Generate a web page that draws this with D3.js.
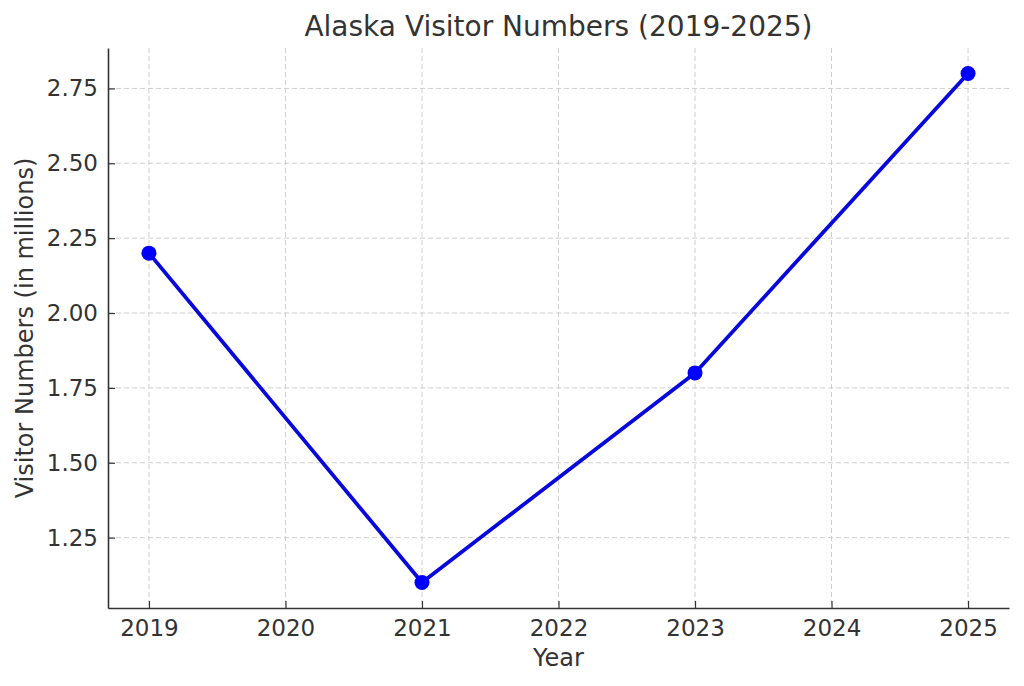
<!DOCTYPE html>
<html>
<head>
<meta charset="utf-8">
<script src="https://cdn.jsdelivr.net/npm/d3@7"></script>
<style>
  body { margin: 0; background: #fff; }
  svg { display: block; font-family: "DejaVu Sans", sans-serif; }
</style>
</head>
<body>
<svg id="chart" width="1024" height="686"></svg>
<script>
// values
const years = [2019, 2021, 2023, 2025]
const visitors = [2.2, 1.1, 1.8, 2.8]
const xTicks = [2019, 2020, 2021, 2022, 2023, 2024, 2025]
const yTicks = [1.25, 1.5, 1.75, 2.0, 2.25, 2.5, 2.75]

var width = 1024,
  height = 686,
  margin = { top: 48, right: 15, bottom: 78, left: 108 }

var svg = d3.select('#chart')

// matplotlib-like 5% padding around the data
var x = d3.scaleLinear()
  .domain([2018.7, 2025.3])
  .range([margin.left, width - margin.right])

var y = d3.scaleLinear()
  .domain([1.015, 2.885])
  .range([height - margin.bottom, margin.top])

var textCol = '#333'
var font = '"DejaVu Sans", sans-serif'

// grid
svg.append('g')
  .selectAll('line')
  .data(xTicks)
  .enter().append('line')
  .attr('x1', d => x(d)).attr('x2', d => x(d))
  .attr('y1', margin.top).attr('y2', height - margin.bottom)
  .attr('stroke', '#cfcfcf').attr('stroke-width', 1)
  .attr('stroke-dasharray', '5,3')

svg.append('g')
  .selectAll('line')
  .data(yTicks)
  .enter().append('line')
  .attr('x1', margin.left).attr('x2', width - margin.right)
  .attr('y1', d => y(d)).attr('y2', d => y(d))
  .attr('stroke', '#cfcfcf').attr('stroke-width', 1)
  .attr('stroke-dasharray', '5,3')

// axes, ticks pointing inward
var xAxis = svg.append('g')
  .attr('transform', 'translate(0,' + (height - margin.bottom) + ')')
  .call(d3.axisBottom(x).tickValues(xTicks).tickFormat(d3.format('d'))
    .tickSizeInner(-7).tickSizeOuter(0).tickPadding(12))
  .attr('font-family', font)
xAxis.select('.domain').attr('stroke', textCol).attr('stroke-width', 1.6)
xAxis.selectAll('.tick line').attr('stroke', textCol).attr('stroke-width', 1.2)
xAxis.selectAll('text')
  .attr('fill', textCol).style('font-size', '23px')

var yAxis = svg.append('g')
  .attr('transform', 'translate(' + margin.left + ',0)')
  .call(d3.axisLeft(y).tickValues(yTicks).tickFormat(d3.format('.2f'))
    .tickSizeInner(-7).tickSizeOuter(0).tickPadding(10))
  .attr('font-family', font)
yAxis.select('.domain').attr('stroke', textCol).attr('stroke-width', 1.6)
yAxis.selectAll('.tick line').attr('stroke', textCol).attr('stroke-width', 1.2)
yAxis.selectAll('text')
  .attr('fill', textCol).style('font-size', '23px')

// line + markers
var line = d3.line()
  .x((d, i) => x(years[i]))
  .y(d => y(d))

svg.append('path')
  .datum(visitors)
  .attr('d', line)
  .attr('fill', 'none')
  .attr('stroke', '#0808dc')
  .attr('stroke-width', 3.8)
  .attr('stroke-linejoin', 'round')

svg.append('g')
  .selectAll('circle')
  .data(visitors)
  .enter().append('circle')
  .attr('cx', (d, i) => x(years[i]))
  .attr('cy', d => y(d))
  .attr('r', 7.5)
  .attr('fill', '#0000ff')

// labels
svg.append('text')
  .attr('x', (margin.left + width - margin.right) / 2)
  .attr('y', 36)
  .attr('text-anchor', 'middle')
  .attr('fill', textCol)
  .style('font-size', '28px')
  .text('Alaska Visitor Numbers (2019-2025)')

svg.append('text')
  .attr('x', (margin.left + width - margin.right) / 2)
  .attr('y', 666)
  .attr('text-anchor', 'middle')
  .attr('fill', textCol)
  .style('font-size', '24px')
  .text('Year')

svg.append('text')
  .attr('transform', 'translate(33,' + (height - margin.bottom + margin.top) / 2 + ') rotate(-90)')
  .attr('text-anchor', 'middle')
  .attr('fill', textCol)
  .style('font-size', '24px')
  .text('Visitor Numbers (in millions)')
</script>
</body>
</html>
